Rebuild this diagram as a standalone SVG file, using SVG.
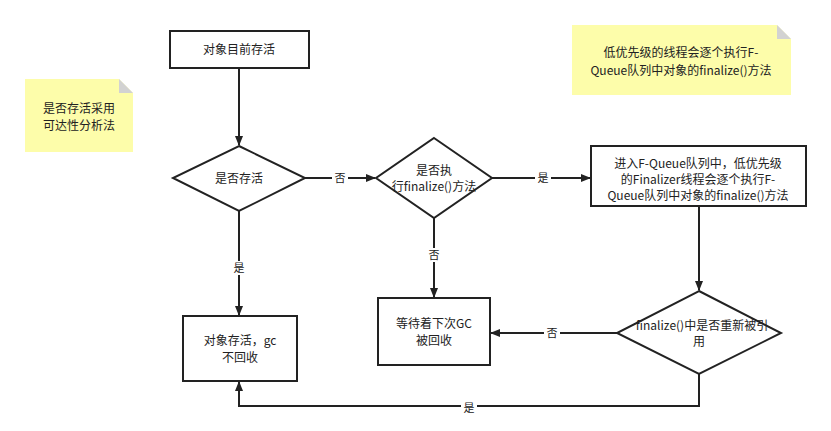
<svg xmlns="http://www.w3.org/2000/svg" width="831" height="431" viewBox="0 0 831 431">
<style>
.n{fill:#fff;stroke:#222;stroke-width:2}
.t{font-family:"Noto Sans CJK SC","Noto Sans",sans-serif;font-size:12px;fill:#222;text-anchor:middle}
.note{fill:#fdfdaa}
.fold{fill:#d2d2d2}
.c{fill:none;stroke:#222;stroke-width:2}
.lb{font-family:"Noto Sans CJK SC","Noto Sans",sans-serif;font-size:11px;fill:#222;text-anchor:middle}
.bg{fill:#fff}
</style>
<defs><marker id="a" markerWidth="10" markerHeight="8" refX="9" refY="4" orient="auto" markerUnits="userSpaceOnUse"><path d="M0,0L10,4L0,8z" fill="#222"/></marker></defs>
<rect width="831" height="431" fill="#fff"/>
<g id="connectors">
<path class="c" d="M239,68V145" marker-end="url(#a)"/>
<path class="c" d="M305,178H375" marker-end="url(#a)"/>
<path class="c" d="M492,178H590" marker-end="url(#a)"/>
<path class="c" d="M434,218V297" marker-end="url(#a)"/>
<path class="c" d="M239,211V315" marker-end="url(#a)"/>
<path class="c" d="M699,206V290" marker-end="url(#a)"/>
<path class="c" d="M617,333H491" marker-end="url(#a)"/>
<path class="c" d="M699,374V406H239V382" marker-end="url(#a)"/>
<rect class="bg" x="332" y="171" width="16" height="14"/><text class="lb" x="340" y="182">否</text>
<rect class="bg" x="535" y="171" width="16" height="14"/><text class="lb" x="543" y="182">是</text>
<rect class="bg" x="426" y="248" width="16" height="14"/><text class="lb" x="434" y="259">否</text>
<rect class="bg" x="231" y="261" width="16" height="14"/><text class="lb" x="239" y="272">是</text>
<rect class="bg" x="544" y="326" width="16" height="14"/><text class="lb" x="552" y="337">否</text>
<rect class="bg" x="461" y="401" width="16" height="14"/><text class="lb" x="469" y="412">是</text>
</g>
<g id="note1"><path class="note" d="M25,79H119L133,93V152H25z"/><path class="fold" d="M119,79L133,93H119z"/>
<text class="t" x="79" y="113">是否存活采用</text><text class="t" x="79" y="130">可达性分析法</text></g>
<g id="note2"><path class="note" d="M572,25H777L791,39V95H572z"/><path class="fold" d="M777,25L791,39H777z"/>
<text class="t" x="681" y="57">低优先级的线程会逐个执行F-</text><text class="t" x="681" y="75">Queue队列中对象的finalize()方法</text></g>
<g id="start"><rect class="n" x="170" y="31" width="139" height="37"/><text class="t" x="239" y="54">对象目前存活</text></g>
<g id="d1"><path class="n" d="M239,146L305,178L239,211L173,178z"/><text class="t" x="239" y="183">是否存活</text></g>
<g id="d2"><path class="n" d="M434,138L492,178L434,218L376,178z"/><text class="t" x="434" y="175">是否执</text><text class="t" x="434" y="191">行finalize()方法</text></g>
<g id="queue"><rect class="n" x="591" y="146" width="215" height="60"/>
<text class="t" x="698" y="168">进入F-Queue队列中，低优先级</text><text class="t" x="698" y="184">的Finalizer线程会逐个执行F-</text><text class="t" x="698" y="200">Queue队列中对象的finalize()方法</text></g>
<g id="d3"><path class="n" d="M699,291L781,333L699,374L617,333z"/><text class="t" x="702" y="330">finalize()中是否重新被引</text><text class="t" x="699" y="346">用</text></g>
<g id="wait"><rect class="n" x="378" y="298" width="112" height="67"/><text class="t" x="434" y="328">等待着下次GC</text><text class="t" x="434" y="345">被回收</text></g>
<g id="alive"><rect class="n" x="183" y="316" width="114" height="65"/><text class="t" x="240" y="345">对象存活，gc</text><text class="t" x="240" y="362">不回收</text></g>
</svg>
